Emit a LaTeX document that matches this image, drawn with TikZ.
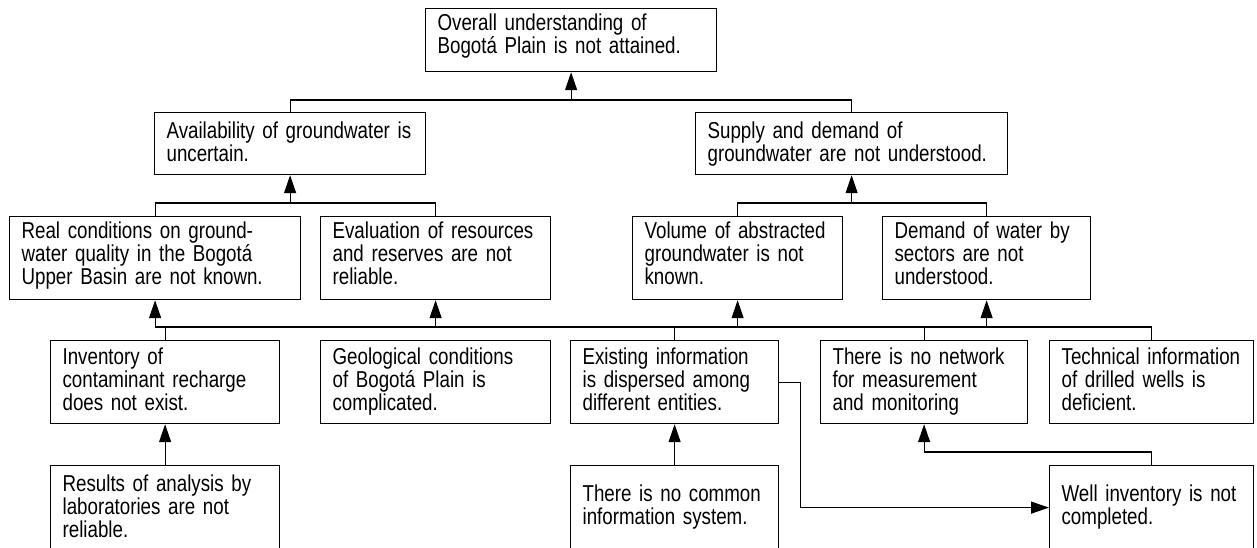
\documentclass[tikz,border=0pt]{standalone}
\usepackage{fontspec}
\setmainfont{Liberation Sans}[FakeStretch=0.815]
\usetikzlibrary{arrows.meta}
\begin{document}
\begin{tikzpicture}[x=1pt,y=-1pt,
  box/.style={draw, line width=1.2pt, anchor=north west, inner xsep=12pt, inner ysep=0pt,
    align=left, font=\fontsize{23}{23}\selectfont},
  conn/.style={line width=1.2pt},
  arr/.style={line width=1.2pt, -{Triangle[length=18pt,width=12pt]}}]
\useasboundingbox (0,0) rectangle (1257,547);
\clip (0,0) rectangle (1257,547);
% level 1
\node[box, text width=267pt, text height=22pt, text depth=41pt] (top) at (425,8)
  {\mbox{Overall understanding of}\\\mbox{Bogotá Plain is not attained.}};
% level 2
\node[box, text width=247pt, text height=26pt, text depth=36pt] (avail) at (154,112)
  {\mbox{Availability of groundwater is}\\\mbox{uncertain.}};
\node[box, text width=288pt, text height=26pt, text depth=36pt] (supply) at (695,112)
  {\mbox{Supply and demand of}\\\mbox{groundwater are not understood.}};
% level 3
\node[box, text width=267pt, text height=22pt, text depth=61pt] (real) at (9,216)
  {\mbox{Real conditions on ground-}\\\mbox{water quality in the Bogotá}\\\mbox{Upper Basin are not known.}};
\node[box, text width=206pt, text height=22pt, text depth=61pt] (eval) at (320,216)
  {\mbox{Evaluation of resources}\\\mbox{and reserves are not}\\\mbox{reliable.}};
\node[box, text width=186pt, text height=22pt, text depth=61pt] (volume) at (632,216)
  {\mbox{Volume of abstracted}\\\mbox{groundwater is not}\\\mbox{known.}};
\node[box, text width=184pt, text height=22pt, text depth=61pt] (demand) at (882,216)
  {\mbox{Demand of water by}\\\mbox{sectors are not}\\\mbox{understood.}};
% level 4
\node[box, text width=205pt, text height=24pt, text depth=59pt] (inv) at (50,340)
  {\mbox{Inventory of}\\\mbox{contaminant recharge}\\\mbox{does not exist.}};
\node[box, text width=206pt, text height=24pt, text depth=59pt] (geo) at (320,340)
  {\mbox{Geological conditions}\\\mbox{of Bogotá Plain is}\\\mbox{complicated.}};
\node[box, text width=184pt, text height=24pt, text depth=59pt] (exist) at (570,340)
  {\mbox{Existing information}\\\mbox{is dispersed among}\\\mbox{different entities.}};
\node[box, text width=183pt, text height=24pt, text depth=59pt] (net) at (820,340)
  {\mbox{There is no network}\\\mbox{for measurement}\\\mbox{and monitoring}};
\node[box, text width=180pt, text height=24pt, text depth=59pt] (tech) at (1049,340)
  {\mbox{Technical information}\\\mbox{of drilled wells is}\\\mbox{deficient.}};
% level 5
\node[box, text width=205pt, text height=26pt, text depth=58pt] (res) at (50,465)
  {\mbox{Results of analysis by}\\\mbox{laboratories are not}\\\mbox{reliable.}};
\node[box, text width=184pt, text height=36pt, text depth=48pt] (common) at (570,465)
  {\mbox{There is no common}\\\mbox{information system.}};
\node[box, text width=180pt, text height=36pt, text depth=48pt] (well) at (1049,465)
  {\mbox{Well inventory is not}\\\mbox{completed.}};
% buses
\coordinate (b1) at (0,100);
\coordinate (b2) at (0,203);
\coordinate (b3) at (0,327);
\draw[conn] (avail.north) -- (avail.north |- b1) -- (supply.north |- b1) -- (supply.north);
\draw[arr] (top.south |- b1) -- (top.south);
\draw[conn] (real.north) -- (real.north |- b2) -- (eval.north |- b2) -- (eval.north);
\draw[arr] (avail.south |- b2) -- (avail.south);
\draw[conn] (volume.north) -- (volume.north |- b2) -- (demand.north |- b2) -- (demand.north);
\draw[arr] (supply.south |- b2) -- (supply.south);
\draw[conn] (real.south |- b3) -- (tech.north |- b3);
\draw[arr] (real.south |- b3) -- (real.south);
\draw[arr] (eval.south |- b3) -- (eval.south);
\draw[arr] (volume.south |- b3) -- (volume.south);
\draw[arr] (demand.south |- b3) -- (demand.south);
\draw[conn] (inv.north |- b3) -- (inv.north);
\draw[conn] (exist.north |- b3) -- (exist.north);
\draw[conn] (net.north |- b3) -- (net.north);
\draw[conn] (tech.north |- b3) -- (tech.north);
\draw[arr] (res.north) -- (inv.south);
\draw[arr] (common.north) -- (exist.south);
\draw[arr] (exist.east) -- ++(21,0) |- (well.west);
\draw[arr] (well.north) -- ++(0,-13) -| (net.south);
\end{tikzpicture}
\end{document}
